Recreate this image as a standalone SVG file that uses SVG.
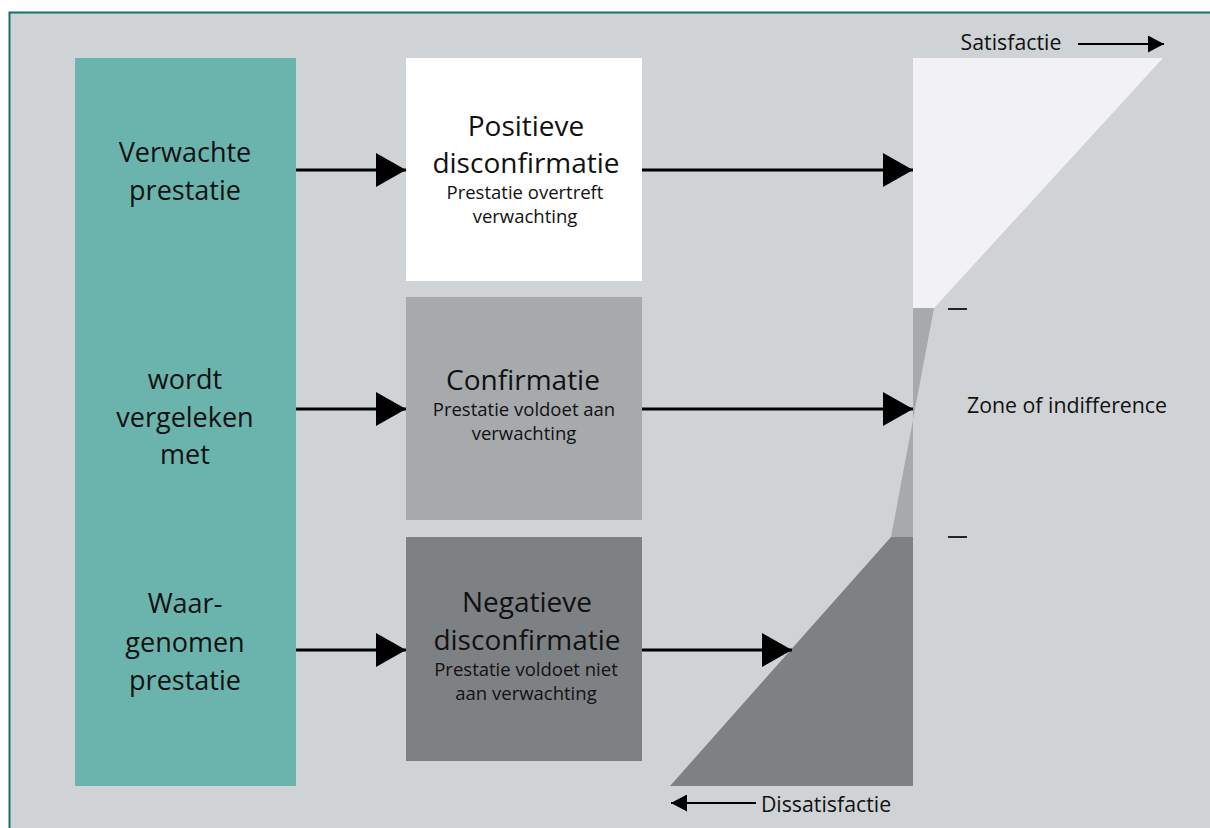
<svg xmlns="http://www.w3.org/2000/svg" width="1210" height="828" viewBox="0 0 1210 828">
  <defs>
    <marker id="ah" viewBox="0 0 30 34" refX="30" refY="17" markerWidth="30" markerHeight="34" markerUnits="userSpaceOnUse" orient="auto">
      <path d="M0,0 L30,17 L0,34 Z" fill="#000"/>
    </marker>
    <marker id="ahs" viewBox="0 0 16 17" refX="16" refY="8.5" markerWidth="16" markerHeight="17" markerUnits="userSpaceOnUse" orient="auto">
      <path d="M0,0 L16,8.5 L0,17 Z" fill="#000"/>
    </marker>
  </defs>
  <style>
    text { font-family: "Open Sans", "Liberation Sans", sans-serif; fill: #111; text-anchor: middle; }
    .big { font-size: 27px; }
    .title { font-size: 28px; }
    .sub { font-size: 18.5px; }
    .lab { font-size: 21.3px; }
    .arrow { stroke: #000; stroke-width: 3.2; fill: none; marker-end: url(#ah); }
    .thin { stroke: #000; stroke-width: 1.8; fill: none; marker-end: url(#ahs); }
  </style>
  <rect x="0" y="0" width="1210" height="828" fill="#ffffff"/>
  <rect x="9.5" y="12.5" width="1215" height="830" fill="#d0d3d6" stroke="#1a6e6a" stroke-width="2"/>

  <g id="col-left">
    <rect x="75" y="58" width="221" height="728" fill="#6bb4ad"/>
    <text class="big" x="185" y="162">Verwachte</text>
    <text class="big" x="185" y="200">prestatie</text>
    <text class="big" x="185" y="389">wordt</text>
    <text class="big" x="185" y="427">vergeleken</text>
    <text class="big" x="185" y="464">met</text>
    <text class="big" x="185" y="613">Waar-</text>
    <text class="big" x="185" y="652">genomen</text>
    <text class="big" x="185" y="690">prestatie</text>
  </g>

  <g id="box-positief">
    <rect x="406" y="58" width="236" height="223" fill="#ffffff"/>
    <text class="title" x="526" y="136">Positieve</text>
    <text class="title" x="526" y="173">disconfirmatie</text>
    <text class="sub" x="525" y="199">Prestatie overtreft</text>
    <text class="sub" x="525" y="223">verwachting</text>
  </g>

  <g id="box-confirmatie">
    <rect x="406" y="297" width="236" height="223" fill="#a7aaad"/>
    <text class="title" x="523" y="390">Confirmatie</text>
    <text class="sub" x="524" y="416">Prestatie voldoet aan</text>
    <text class="sub" x="524" y="440">verwachting</text>
  </g>

  <g id="box-negatief">
    <rect x="406" y="537" width="236" height="224" fill="#7e8184"/>
    <text class="title" x="527" y="612">Negatieve</text>
    <text class="title" x="527" y="650">disconfirmatie</text>
    <text class="sub" x="526" y="676">Prestatie voldoet niet</text>
    <text class="sub" x="526" y="700">aan verwachting</text>
  </g>

  <g id="satisfaction-shape">
    <polygon points="913,58 1163,58 934,308 913,308" fill="#f2f2f4"/>
    <polygon points="913,308 934,308 891,537 913,537" fill="#a7aaad"/>
    <polygon points="891,537 913,537 913,786 670,786" fill="#7e8184"/>
    <line x1="948" y1="309" x2="967" y2="309" stroke="#111" stroke-width="1.8"/>
    <line x1="948" y1="537" x2="967" y2="537" stroke="#111" stroke-width="1.8"/>
  </g>

  <g id="label-satisfactie">
    <text class="lab" x="1011" y="50">Satisfactie</text>
  </g>
  <g id="label-zone">
    <text class="lab" x="1067" y="413">Zone of indifference</text>
  </g>
  <g id="label-dissatisfactie">
    <text class="lab" x="826" y="812">Dissatisfactie</text>
  </g>

  <g id="connectors">
    <line class="arrow" x1="296" y1="170" x2="406" y2="170"/>
    <line class="arrow" x1="642" y1="170" x2="913" y2="170"/>
    <line class="arrow" x1="296" y1="409" x2="406" y2="409"/>
    <line class="arrow" x1="642" y1="409" x2="913" y2="409"/>
    <line class="arrow" x1="296" y1="650" x2="406" y2="650"/>
    <line class="arrow" x1="642" y1="650" x2="792" y2="650"/>
    <line class="thin" x1="1078" y1="44" x2="1164" y2="44"/>
    <line class="thin" x1="756" y1="803" x2="671" y2="803"/>
  </g>
</svg>
